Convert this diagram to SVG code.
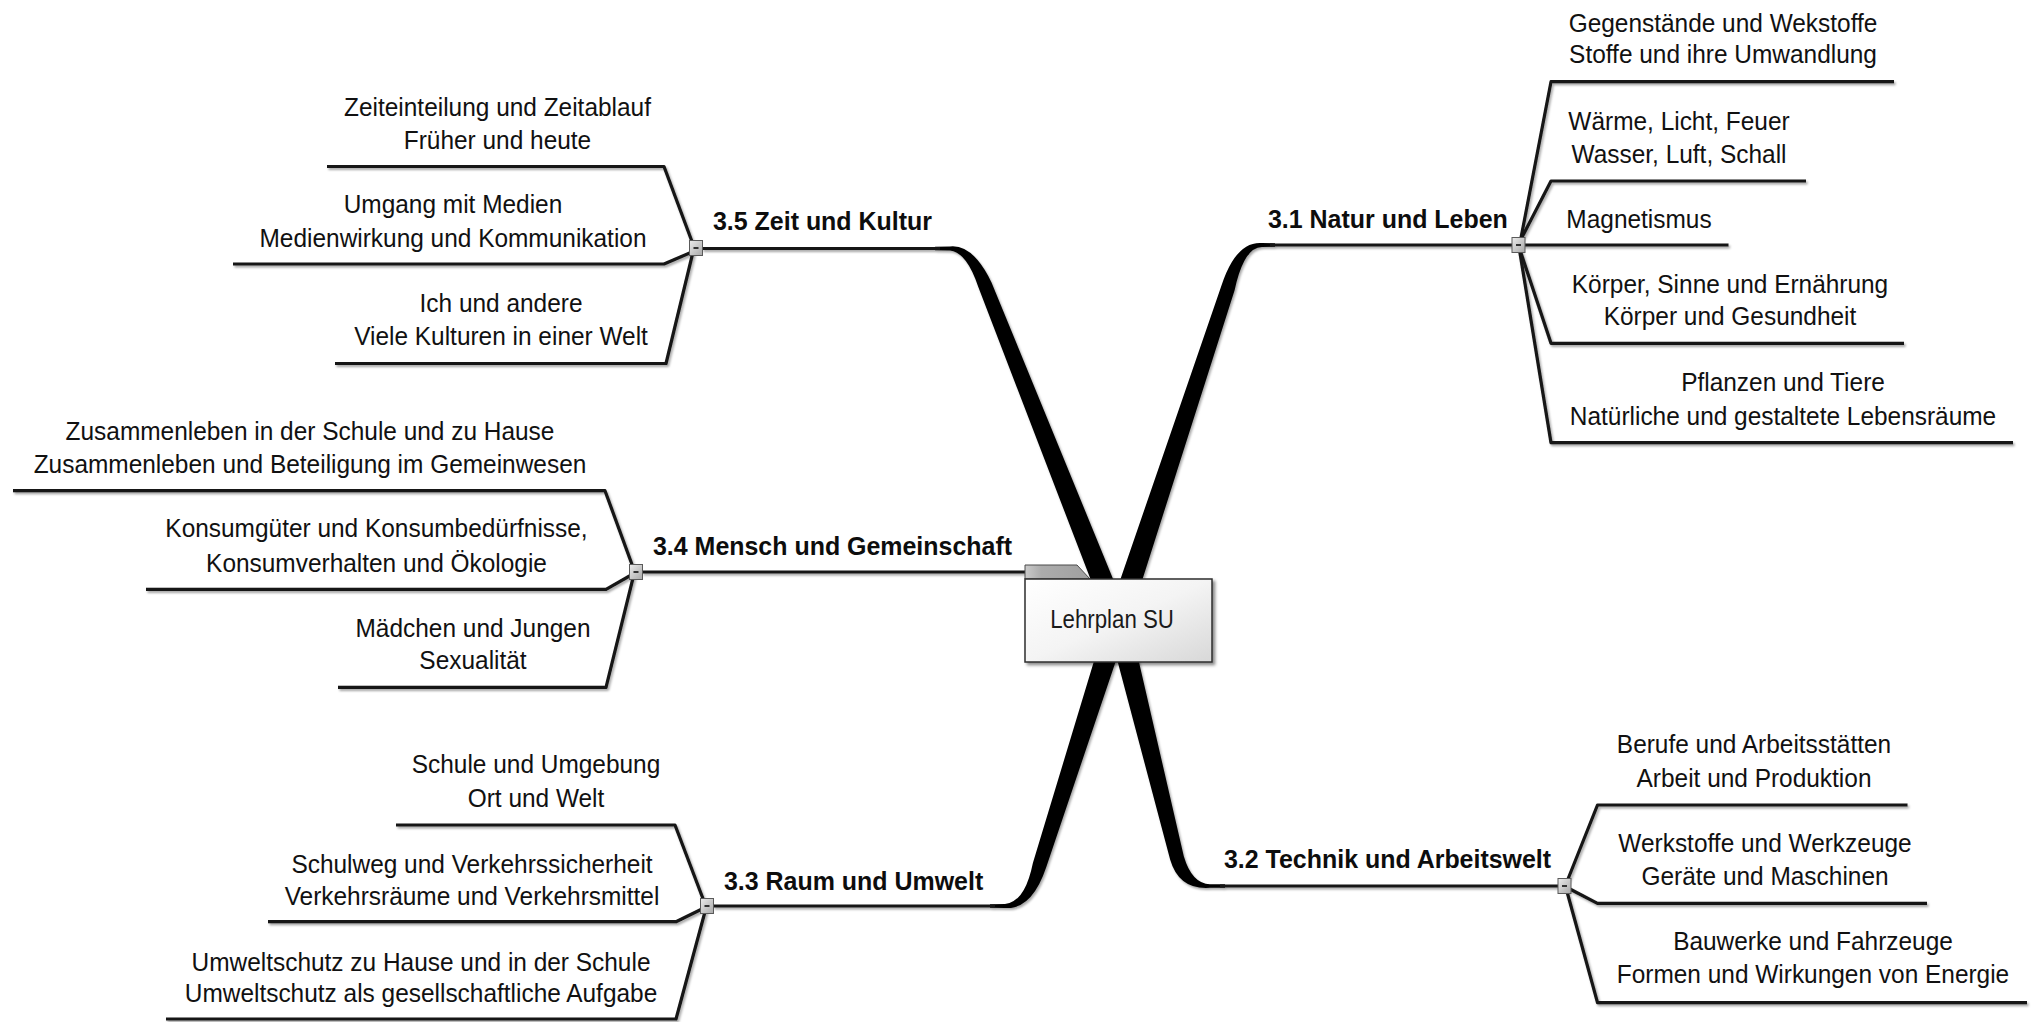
<svg xmlns="http://www.w3.org/2000/svg" width="2031" height="1022" viewBox="0 0 2031 1022">
<defs>
<style>
.t{font-family:"Liberation Sans",Arial,sans-serif;font-size:26px;fill:#111;text-anchor:middle}
.b{font-family:"Liberation Sans",Arial,sans-serif;font-size:26px;font-weight:bold;fill:#0d0d0d}
.c{font-family:"Liberation Sans",Arial,sans-serif;font-size:25px;fill:#1a1a1a;text-anchor:middle}
.ln{fill:none;stroke:#141414;stroke-width:3.2;stroke-linejoin:round}
.thick{fill:#050505}
.btn{fill:url(#btng);stroke:#5a5a5a;stroke-width:1}
.dash{stroke:#333;stroke-width:2}
</style>
<filter id="sh" filterUnits="userSpaceOnUse" x="0" y="0" width="2031" height="1022">
<feDropShadow dx="1.5" dy="2" stdDeviation="1" flood-color="#000" flood-opacity="0.35"/>
</filter>
<filter id="bsh" x="-10%" y="-10%" width="125%" height="130%">
<feDropShadow dx="2.5" dy="2.5" stdDeviation="1.5" flood-color="#000" flood-opacity="0.45"/>
</filter>
<linearGradient id="boxg" x1="0" y1="0" x2="1" y2="1">
<stop offset="0" stop-color="#ffffff"/>
<stop offset="0.5" stop-color="#f4f4f4"/>
<stop offset="1" stop-color="#d8d8d8"/>
</linearGradient>
<linearGradient id="tabg" x1="0" y1="0" x2="1" y2="0">
<stop offset="0" stop-color="#cacaca"/>
<stop offset="0.25" stop-color="#acacac"/>
<stop offset="1" stop-color="#a0a0a0"/>
</linearGradient>
<linearGradient id="btng" x1="0" y1="0" x2="1" y2="1">
<stop offset="0" stop-color="#ececec"/>
<stop offset="1" stop-color="#a8a8a8"/>
</linearGradient>
</defs>
<rect width="2031" height="1022" fill="#ffffff"/>

<g id="connectors" filter="url(#sh)">
<path class="thick" d="M1128.2,615.9 L991.5,282.4 Q973,244 950,246.5 L935,246.8 L935,250.2 L950,250.5 Q967,252.5 978.5,287.6 L1107.8,624.1 Z"/>
<path class="thick" d="M1107.6,616.5 L1221.4,285.8 Q1236,241 1262,243 L1275,243.3 L1275,246.7 L1262,247 Q1244,247 1234.6,290.2 L1128.4,623.5 Z"/>
<path class="thick" d="M1107.5,616.6 L1032.9,862.9 Q1025,902 1005,904 L990,904.3 L990,907.7 L1005,908 Q1032,910 1046.3,867.1 L1128.5,623.4 Z"/>
<path class="thick" d="M1107.3,622.6 L1170.2,859.7 Q1179,890 1210,887.8 L1225,887.7 L1225,884.3 L1210,884.2 Q1192,884 1183.8,856.3 L1128.7,617.4 Z"/>
<line class="ln" x1="702" y1="248.5" x2="940" y2="248.5"/>
<line class="ln" x1="1270" y1="245" x2="1728.5" y2="245"/>
<line class="ln" x1="642" y1="572" x2="1026" y2="572"/>
<line class="ln" x1="713" y1="906" x2="995" y2="906"/>
<line class="ln" x1="1220" y1="886" x2="1558" y2="886"/>
<polyline class="ln" points="327,166.5 664,166.5 694,247"/>
<polyline class="ln" points="233,264 664,264 692,252"/>
<polyline class="ln" points="335,363.5 666,363.5 693,252"/>
<polyline class="ln" points="1894,81.7 1551,81.7 1520,243"/>
<polyline class="ln" points="1806,181 1551,181 1519,243"/>
<polyline class="ln" points="1904,343.3 1551,343.3 1519,247"/>
<polyline class="ln" points="2013,442.7 1551,442.7 1519,247"/>
<polyline class="ln" points="13,490.7 605,490.7 634,570"/>
<polyline class="ln" points="146,589.3 606,589.3 633,574"/>
<polyline class="ln" points="338,687.3 606,687.3 634,574"/>
<polyline class="ln" points="396,825 675,825 705,904"/>
<polyline class="ln" points="268,921.7 676,921.7 704,908"/>
<polyline class="ln" points="166,1019 676,1019 706,908"/>
<polyline class="ln" points="1907.5,805 1597.5,805 1566,884"/>
<polyline class="ln" points="1927,903.3 1597.5,903.3 1568,888"/>
<polyline class="ln" points="2027,1002.7 1597.5,1002.7 1566,888"/>
</g>

<g id="node-center">
<polygon points="1025,565 1077,565 1090,579 1025,579" fill="url(#tabg)" stroke="#4a4a4a" stroke-width="1"/>
<rect x="1025" y="579" width="187" height="83" fill="url(#boxg)" stroke="#2e2e2e" stroke-width="1.5" filter="url(#bsh)"/>
<text class="c" transform="translate(1112,628) scale(0.89,1)">Lehrplan SU</text>
</g>

<g id="node-3-5">
<text class="b" transform="translate(713,230) scale(0.96,1)">3.5 Zeit und Kultur</text>
<rect class="btn" x="689.5" y="240.5" width="13" height="15"/>
<line class="dash" x1="693.5" y1="248" x2="698.5" y2="248"/>
</g>
<g id="node-3-5-1">
<text class="t" transform="translate(497.5,116) scale(0.94,1)">Zeiteinteilung und Zeitablauf</text>
<text class="t" transform="translate(497.5,148.5) scale(0.94,1)">Früher und heute</text>
</g>
<g id="node-3-5-2">
<text class="t" transform="translate(453,213.3) scale(0.94,1)">Umgang mit Medien</text>
<text class="t" transform="translate(453,246.5) scale(0.94,1)">Medienwirkung und Kommunikation</text>
</g>
<g id="node-3-5-3">
<text class="t" transform="translate(501,311.7) scale(0.94,1)">Ich und andere</text>
<text class="t" transform="translate(501,345) scale(0.94,1)">Viele Kulturen in einer Welt</text>
</g>

<g id="node-3-1">
<text class="b" transform="translate(1268,227.7) scale(0.96,1)">3.1 Natur und Leben</text>
<rect class="btn" x="1512" y="237.5" width="13" height="15"/>
<line class="dash" x1="1516" y1="245" x2="1521" y2="245"/>
</g>
<g id="node-3-1-1">
<text class="t" transform="translate(1723,31.7) scale(0.94,1)">Gegenstände und Wekstoffe</text>
<text class="t" transform="translate(1723,63.3) scale(0.94,1)">Stoffe und ihre Umwandlung</text>
</g>
<g id="node-3-1-2">
<text class="t" transform="translate(1679,130) scale(0.94,1)">Wärme, Licht, Feuer</text>
<text class="t" transform="translate(1679,163.3) scale(0.94,1)">Wasser, Luft, Schall</text>
</g>
<g id="node-3-1-3">
<text class="t" transform="translate(1639,227.7) scale(0.94,1)">Magnetismus</text>
</g>
<g id="node-3-1-4">
<text class="t" transform="translate(1730,292.7) scale(0.94,1)">Körper, Sinne und Ernährung</text>
<text class="t" transform="translate(1730,325) scale(0.94,1)">Körper und Gesundheit</text>
</g>
<g id="node-3-1-5">
<text class="t" transform="translate(1783,390.7) scale(0.94,1)">Pflanzen und Tiere</text>
<text class="t" transform="translate(1783,425) scale(0.94,1)">Natürliche und gestaltete Lebensräume</text>
</g>

<g id="node-3-4">
<text class="b" transform="translate(653,555) scale(0.96,1)">3.4 Mensch und Gemeinschaft</text>
<rect class="btn" x="629.5" y="564.5" width="13" height="15"/>
<line class="dash" x1="633.5" y1="572" x2="638.5" y2="572"/>
</g>
<g id="node-3-4-1">
<text class="t" transform="translate(310,440) scale(0.94,1)">Zusammenleben in der Schule und zu Hause</text>
<text class="t" transform="translate(310,472.7) scale(0.94,1)">Zusammenleben und Beteiligung im Gemeinwesen</text>
</g>
<g id="node-3-4-2">
<text class="t" transform="translate(376.5,537.3) scale(0.94,1)">Konsumgüter und Konsumbedürfnisse,</text>
<text class="t" transform="translate(376.5,571.7) scale(0.94,1)">Konsumverhalten und Ökologie</text>
</g>
<g id="node-3-4-3">
<text class="t" transform="translate(473,636.7) scale(0.94,1)">Mädchen und Jungen</text>
<text class="t" transform="translate(473,669.3) scale(0.94,1)">Sexualität</text>
</g>

<g id="node-3-3">
<text class="b" transform="translate(724,890) scale(0.96,1)">3.3 Raum und Umwelt</text>
<rect class="btn" x="700.5" y="898.5" width="13" height="15"/>
<line class="dash" x1="704.5" y1="906" x2="709.5" y2="906"/>
</g>
<g id="node-3-3-1">
<text class="t" transform="translate(536,773.3) scale(0.94,1)">Schule und Umgebung</text>
<text class="t" transform="translate(536,807.3) scale(0.94,1)">Ort und Welt</text>
</g>
<g id="node-3-3-2">
<text class="t" transform="translate(472,872.7) scale(0.94,1)">Schulweg und Verkehrssicherheit</text>
<text class="t" transform="translate(472,905) scale(0.94,1)">Verkehrsräume und Verkehrsmittel</text>
</g>
<g id="node-3-3-3">
<text class="t" transform="translate(421,970.5) scale(0.94,1)">Umweltschutz zu Hause und in der Schule</text>
<text class="t" transform="translate(421,1002) scale(0.94,1)">Umweltschutz als gesellschaftliche Aufgabe</text>
</g>

<g id="node-3-2">
<text class="b" transform="translate(1224,868.3) scale(0.96,1)">3.2 Technik und Arbeitswelt</text>
<rect class="btn" x="1558" y="878.5" width="13" height="15"/>
<line class="dash" x1="1562" y1="886" x2="1567" y2="886"/>
</g>
<g id="node-3-2-1">
<text class="t" transform="translate(1754,753.3) scale(0.94,1)">Berufe und Arbeitsstätten</text>
<text class="t" transform="translate(1754,787.3) scale(0.94,1)">Arbeit und Produktion</text>
</g>
<g id="node-3-2-2">
<text class="t" transform="translate(1765,851.7) scale(0.94,1)">Werkstoffe und Werkzeuge</text>
<text class="t" transform="translate(1765,885) scale(0.94,1)">Geräte und Maschinen</text>
</g>
<g id="node-3-2-3">
<text class="t" transform="translate(1813,950) scale(0.94,1)">Bauwerke und Fahrzeuge</text>
<text class="t" transform="translate(1813,983.3) scale(0.94,1)">Formen und Wirkungen von Energie</text>
</g>
</svg>
